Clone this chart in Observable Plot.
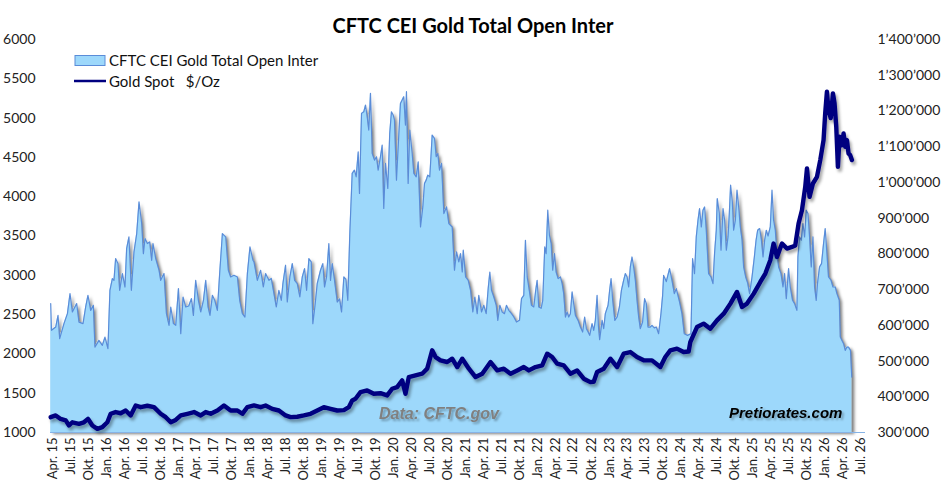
<!DOCTYPE html>
<html><head><meta charset="utf-8">
<script src="https://cdn.jsdelivr.net/npm/d3@7"></script>
<script src="https://cdn.jsdelivr.net/npm/@observablehq/plot@0.6"></script>
<style>
body{margin:0;background:#fff;}
#chart{width:945px;height:495px;}
</style></head><body><div id="chart"></div>
<script>
const titleText = "CFTC CEI Gold Total Open Inter";
const legendOI = "CFTC CEI Gold Total Open Inter";
const legendGold = "Gold Spot   $/Oz";
const sourceText = "Data: CFTC.gov";
const brandText = "Pretiorates.com";
const quarterLabels = {0: "Jan.", 3: "Apr.", 6: "Jul.", 9: "Okt."};
const leftTicks = [1000, 1500, 2000, 2500, 3000, 3500, 4000, 4500, 5000, 5500, 6000];
const rightTicks = [300000, 400000, 500000, 600000, 700000, 800000, 900000, 1000000, 1100000, 1200000, 1300000, 1400000];

// CFTC CEI gold total open interest (thousand contracts), dates as decimal years
const oiTime = [
2015.222,2015.233,2015.292,2015.324,2015.347,2015.407,2015.455,2015.491,2015.524,2015.584,
2015.616,2015.672,2015.709,2015.741,2015.779,2015.816,2015.838,2015.894,2015.941,2015.978,
2016.019,2016.047,2016.081,2016.103,2016.126,2016.158,2016.182,2016.22,2016.256,2016.279,
2016.311,2016.345,2016.381,2016.419,2016.451,2016.488,2016.512,2016.534,2016.567,2016.599,
2016.627,2016.645,2016.683,2016.729,2016.752,2016.798,2016.832,2016.868,2016.892,2016.929,
2016.961,2016.999,2017.031,2017.063,2017.1,2017.142,2017.18,2017.207,2017.239,2017.277,
2017.309,2017.347,2017.379,2017.411,2017.438,2017.472,2017.504,2017.541,2017.573,2017.611,
2017.657,2017.694,2017.726,2017.772,2017.82,2017.852,2017.889,2017.925,2017.959,2017.995,
2018.037,2018.051,2018.098,2018.144,2018.181,2018.213,2018.259,2018.292,2018.329,2018.362,
2018.398,2018.432,2018.454,2018.491,2018.515,2018.551,2018.585,2018.617,2018.654,2018.69,
2018.724,2018.756,2018.784,2018.816,2018.849,2018.871,2018.899,2018.932,2018.978,2019.01,
2019.034,2019.062,2019.094,2019.117,2019.141,2019.173,2019.211,2019.243,2019.271,2019.303,
2019.331,2019.358,2019.386,2019.419,2019.451,2019.475,2019.503,2019.521,2019.549,2019.581,
2019.605,2019.628,2019.65,2019.674,2019.698,2019.73,2019.757,2019.781,2019.813,2019.837,
2019.859,2019.883,2019.915,2019.942,2019.966,2019.99,2020.008,2020.036,2020.068,2020.091,
2020.115,2020.137,2020.161,2020.175,2020.198,2020.221,2020.254,2020.277,2020.31,2020.338,
2020.37,2020.402,2020.425,2020.449,2020.471,2020.499,2020.532,2020.564,2020.588,2020.61,
2020.634,2020.662,2020.694,2020.731,2020.763,2020.81,2020.842,2020.87,2020.902,2020.926,
2020.95,2020.964,2020.996,2021.033,2021.065,2021.097,2021.125,2021.158,2021.18,2021.218,
2021.25,2021.283,2021.311,2021.334,2021.357,2021.389,2021.423,2021.445,2021.473,2021.506,
2021.538,2021.566,2021.598,2021.636,2021.668,2021.705,2021.747,2021.775,2021.807,2021.83,
2021.854,2021.876,2021.914,2021.946,2021.97,2021.993,2022.015,2022.049,2022.071,2022.099,
2022.118,2022.141,2022.164,2022.188,2022.21,2022.234,2022.257,2022.285,2022.317,2022.341,
2022.363,2022.387,2022.41,2022.433,2022.456,2022.48,2022.502,2022.526,2022.563,2022.595,
2022.627,2022.655,2022.679,2022.703,2022.725,2022.758,2022.781,2022.804,2022.828,2022.846,
2022.864,2022.898,2022.92,2022.943,2022.981,2023.003,2023.023,2023.045,2023.075,2023.107,
2023.139,2023.167,2023.198,2023.222,2023.246,2023.268,2023.291,2023.315,2023.337,2023.361,
2023.384,2023.407,2023.43,2023.462,2023.49,2023.514,2023.537,2023.569,2023.593,2023.625,
2023.653,2023.685,2023.718,2023.741,2023.755,2023.792,2023.838,2023.871,2023.904,2023.931,
2023.977,2024.01,2024.042,2024.088,2024.135,2024.158,2024.185,2024.209,2024.233,2024.255,
2024.279,2024.302,2024.325,2024.348,2024.38,2024.413,2024.441,2024.463,2024.487,2024.501,
2024.529,2024.553,2024.581,2024.603,2024.627,2024.65,2024.668,2024.686,2024.71,2024.728,
2024.752,2024.775,2024.798,2024.821,2024.845,2024.867,2024.895,2024.923,2024.95,2024.984,
2025.016,2025.04,2025.062,2025.09,2025.114,2025.137,2025.16,2025.183,2025.207,2025.238,
2025.262,2025.284,2025.308,2025.331,2025.354,2025.387,2025.415,2025.437,2025.461,2025.493,
2025.516,2025.548,2025.576,2025.609,2025.623,2025.646,2025.67,2025.693,2025.716,2025.739,
2025.763,2025.785,2025.809,2025.832,2025.855,2025.878,2025.896,2025.924,2025.952,2025.98,
2026.003,2026.027,2026.049,2026.083,2026.111,2026.143,2026.166,2026.199,2026.213,2026.236,
2026.259,2026.282,2026.306,2026.328,2026.355,2026.373
];
const oiK = [
660.8,586,595.2,627.8,562.7,604.7,632.6,688.7,637.3,660.8,
609.1,604.7,651.3,683.9,641.9,656,539.1,557.8,543.8,567.1,
534.5,698,730.8,725.9,786.9,772.8,698,744.8,707.2,814.8,
847.4,698,805.3,856.8,945.5,885,800.7,843,828.9,833.5,
782,828.9,786.9,754.1,725.9,744.8,632.6,599.9,651.3,604.7,
599.9,702.8,576.5,679.3,651.3,654.2,674.7,627.8,725.9,670,
637.3,670,725.9,651.3,627.8,683.9,670,641.9,744.8,856.8,
847.4,754.1,735.4,740,735.4,670,632.6,623.2,744.8,819.4,
782,777.4,725.9,754.1,707.2,744.8,725.9,731.2,688.7,651.3,
698,670,716.7,768.2,665.2,735.4,772.8,725.9,716.7,679.3,
735.4,758.7,698,786.9,777.4,604.7,651.3,716.7,754.1,772.8,
707.2,735.4,828.9,725.9,772.8,725.9,665.2,674,637.3,735.4,
729,670,856.8,1025.1,1034.4,1015.7,1085.6,969,1193.2,1197.8,
1216.5,1183.7,1146.6,1249.3,1081,1062.5,1071.8,1034.4,1071.8,1104.3,
927,1053.1,983.1,1137.1,1197.8,1188.8,1174.5,1006.4,1132.5,1221.1,
1230.6,1239.8,1160.4,1253.9,997,1146.6,1081,1025.1,1015.7,1057.7,
875.3,931.4,997,1006.4,1020.5,1015.7,1132.5,1123.2,1071.8,1081,
1034.4,1053.1,912.9,931.4,885,875.3,754.1,805.3,777.4,800.7,
749.2,810.2,735.4,725.9,698,637.3,679.3,632.6,683.9,637.3,
656,632.6,702.8,749.2,698,679.3,656,613.9,656,637.3,
632.6,656,641.9,632.6,623.2,609.1,613.9,674.7,683.9,838.1,
735.4,707.2,656,651.3,693.4,725.9,651.3,647.6,670,819.4,
800.7,922.2,852.2,828.9,754.1,800.7,749.2,730.8,735.4,716.7,
688.7,623.2,637.3,623.2,632.6,693.4,660.8,627.8,613.9,595.2,
581.2,623.2,590.6,581.2,571.9,604.7,586,613.9,683.9,599.2,
559.8,613.9,590.4,632.6,656,698,730.8,670,613.9,623.2,
651.3,698,725.9,744.8,735.4,707.2,763.3,791.3,763.3,725.9,
670,623.2,590.6,609.1,674.7,660.8,595.2,595.2,599.9,592.6,
595.2,576.5,632.6,683.9,739.8,722.4,758.7,725.9,688.7,702.6,
665.2,632.6,576.5,571.9,576.5,786.9,744.8,847.4,894.2,927,
875.3,922.2,931.4,866.1,744.8,735.6,716.7,800.7,866.1,954.9,
912.9,810.2,927,894,810.2,847.4,912.9,992.3,945.5,866.1,
894,978.3,931.4,875.3,839,763.3,735.4,718,688.7,735.6,
791.3,838.1,866.1,870.9,839,791.3,839,866.1,850,875.3,
978.3,894.2,866.1,800.7,763.3,744.8,707.2,744.8,674.7,758.7,
707.2,670,660.8,641.9,791.3,847.4,838.1,885,847.4,922.2,
912.9,847.4,763.3,847.4,707.2,670,718,763.3,772.8,828.9,
870.9,800.7,735.4,726.8,707.2,707.2,688.7,670,567.1,557.8,
548.6,529.9,539.1,539.1,529.9,455.1
];

// Gold spot, USD per ounce, dates as decimal years
const goldTime = [
2015.222,2015.292,2015.361,2015.431,2015.477,2015.524,2015.616,2015.685,2015.741,2015.802,
2015.872,2015.941,2016.011,2016.057,2016.126,2016.196,2016.266,2016.335,2016.405,2016.474,
2016.567,2016.659,2016.752,2016.822,2016.892,2016.961,2017.031,2017.124,2017.216,2017.309,
2017.379,2017.448,2017.541,2017.633,2017.726,2017.82,2017.889,2017.959,2018.051,2018.144,
2018.213,2018.306,2018.398,2018.491,2018.561,2018.654,2018.746,2018.839,2018.932,2019.024,
2019.117,2019.211,2019.303,2019.372,2019.419,2019.465,2019.535,2019.628,2019.72,2019.813,
2019.906,2019.976,2020.045,2020.115,2020.161,2020.207,2020.3,2020.393,2020.463,2020.532,
2020.579,2020.648,2020.741,2020.81,2020.88,2020.95,2021.042,2021.135,2021.228,2021.344,
2021.437,2021.529,2021.622,2021.715,2021.807,2021.877,2021.97,2022.063,2022.133,2022.202,
2022.272,2022.363,2022.456,2022.549,2022.642,2022.735,2022.781,2022.828,2022.92,2023.013,
2023.107,2023.198,2023.291,2023.384,2023.477,2023.593,2023.709,2023.778,2023.848,2023.941,
2024.033,2024.103,2024.126,2024.219,2024.311,2024.405,2024.497,2024.59,2024.683,2024.775,
2024.845,2024.914,2025.007,2025.099,2025.169,2025.238,2025.284,2025.331,2025.401,2025.47,
2025.54,2025.586,2025.632,2025.679,2025.725,2025.749,2025.785,2025.832,2025.888,2025.934,
2025.98,2026.003,2026.027,2026.049,2026.08,2026.111,2026.133,2026.157,2026.18,2026.203,
2026.236,2026.259,2026.282,2026.306,2026.328,2026.351,2026.375
];
const goldUsd = [
1195,1217,1172,1155,1089,1130,1110,1130,1174,1089,
1047,1068,1130,1238,1260,1245,1280,1217,1344,1322,
1340,1322,1238,1195,1130,1160,1217,1238,1260,1217,
1260,1238,1280,1344,1280,1280,1238,1322,1344,1322,
1344,1301,1280,1217,1195,1200,1217,1238,1280,1322,
1301,1280,1285,1322,1408,1429,1514,1535,1493,1500,
1472,1557,1578,1663,1493,1705,1727,1748,1812,2045,
1960,1918,1897,1939,1833,1939,1812,1705,1748,1896,
1790,1812,1748,1790,1833,1790,1833,1854,2003,1960,
1875,1854,1748,1790,1684,1641,1645,1769,1812,1939,
1833,2003,2024,1960,1918,1918,1833,1960,2045,2067,
2024,2030,2150,2342,2385,2321,2427,2512,2640,2788,
2597,2640,2767,2915,3022,3191,3404,3233,3404,3340,
3361,3380,3659,3828,4125,4359,3998,4168,4253,4466,
4720,5060,5336,5103,5000,5315,5187,4890,4380,4763,
4656,4805,4635,4720,4550,4529,4466
];

const fmtRight = d3.formatLocale({decimal: ".", thousands: "\u2019", grouping: [3], currency: ["", ""]}).format(",");
// right axis (open interest) mapped onto the left axis (gold) units
const toLeft = v => 1000 + (v - 300000) / 220;
const fromLeft = l => 300000 + (l - 1000) * 220;
function yearToDate(t) {
  const y = Math.floor(t);
  const a = Date.UTC(y, 0, 1), b = Date.UTC(y + 1, 0, 1);
  return new Date(a + (t - y) * (b - a));
}
const oiData = oiTime.map((t, i) => ({date: yearToDate(t), left: toLeft(oiK[i] * 1000), base: 1000}));
const goldData = goldTime.map((t, i) => ({date: yearToDate(t), value: goldUsd[i]}));
const xTicks = d3.utcMonth.every(3).range(new Date(Date.UTC(2015, 3, 1)), new Date(Date.UTC(2026, 7, 1)));
const xDomain = [new Date(Date.UTC(2015, 2, 22)), new Date(Date.UTC(2026, 6, 26))];

const chart = Plot.plot({
  width: 945, height: 495,
  marginTop: 39, marginBottom: 63, marginLeft: 50, marginRight: 80,
  style: {fontFamily: "Lato, 'Open Sans', sans-serif", fontSize: "14px", color: "#222", background: "#fff"},
  x: {type: "utc", domain: xDomain},
  y: {domain: [1000, 6000]},
  marks: [
    Plot.areaY(oiData, {x: "date", y1: "base", y2: "left", fill: "#9dd8fb"}),
    Plot.lineY(oiData, {x: "date", y: "left", stroke: "#5a8cd8", strokeWidth: 1.2}),
    Plot.ruleY([1000], {stroke: "#86b3e6", strokeWidth: 1.2}),
    Plot.lineY(goldData, {x: "date", y: "value", stroke: "#000080", strokeWidth: 4.4}),
    Plot.axisY(leftTicks, {anchor: "left", tickSize: 0, tickPadding: 15, label: null, fontSize: 14, tickFormat: d3.format("d")}),
    Plot.axisY(rightTicks.map(toLeft), {anchor: "right", tickSize: 0, tickPadding: 12, label: null, fontSize: 14, tickFormat: v => fmtRight(Math.round(fromLeft(v)))}),
    Plot.axisX(xTicks, {anchor: "bottom", tickSize: 0, tickPadding: 5, tickRotate: -90, label: null, fontSize: 13,
      tickFormat: d => quarterLabels[d.getUTCMonth()] + " " + String(d.getUTCFullYear() % 100).padStart(2, "0")})
  ]
});
document.getElementById("chart").appendChild(chart);

const svg = d3.select(chart);
const defs = svg.insert("defs", ":first-child");
defs.append("filter").attr("id", "shArea").attr("x", "-2%").attr("y", "-2%").attr("width", "106%").attr("height", "108%")
  .append("feDropShadow").attr("dx", 3).attr("dy", 2).attr("stdDeviation", 1.6).attr("flood-color", "#000").attr("flood-opacity", 0.5);
defs.append("filter").attr("id", "shLine").attr("x", "-2%").attr("y", "-5%").attr("width", "106%").attr("height", "115%")
  .append("feDropShadow").attr("dx", 2).attr("dy", 3).attr("stdDeviation", 1.5).attr("flood-color", "#000").attr("flood-opacity", 0.35);
defs.append("filter").attr("id", "shText").attr("x", "-5%").attr("y", "-20%").attr("width", "115%").attr("height", "150%")
  .append("feDropShadow").attr("dx", 2).attr("dy", 2).attr("stdDeviation", 1).attr("flood-color", "#000").attr("flood-opacity", 0.3);
const areaG = svg.selectAll('g[aria-label="area"]');
const lineG = svg.selectAll('g[aria-label="line"]');
areaG.attr("filter", "url(#shArea)");
if (lineG.size() > 1) d3.select(lineG.nodes()[1]).attr("filter", "url(#shLine)");

const txt = (x, y) => svg.append("text").attr("x", x).attr("y", y).attr("text-anchor", "start");
txt(473, 33).attr("text-anchor", "middle")
  .style("font-family", "Lato, sans-serif").style("font-weight", "bold").style("font-size", "20px").attr("fill", "#000")
  .text(titleText);
svg.append("rect").attr("x", 75).attr("y", 55.5).attr("width", 30).attr("height", 10)
  .attr("fill", "#9dd8fb").attr("stroke", "#5a8cd8").attr("stroke-width", 1);
txt(109, 66).style("font-family", "Lato, sans-serif").style("font-size", "15px").attr("fill", "#111").text(legendOI);
svg.append("line").attr("x1", 74).attr("x2", 106).attr("y1", 81).attr("y2", 81).attr("stroke", "#000080").attr("stroke-width", 2.5);
txt(109, 87).style("font-family", "Lato, sans-serif").style("font-size", "15px").attr("fill", "#111")
  .style("white-space", "pre").text(legendGold);
txt(379, 419).style("font-family", "'Liberation Sans', Arial, sans-serif")
  .style("font-weight", "bold").style("font-style", "italic").style("font-size", "16px").attr("fill", "#808080")
  .attr("filter", "url(#shText)").text(sourceText);
txt(729, 418).style("font-family", "'Liberation Sans', Arial, sans-serif")
  .style("font-weight", "bold").style("font-style", "italic").style("font-size", "15px").attr("fill", "#000")
  .attr("filter", "url(#shText)").text(brandText);
</script>
</body></html>
